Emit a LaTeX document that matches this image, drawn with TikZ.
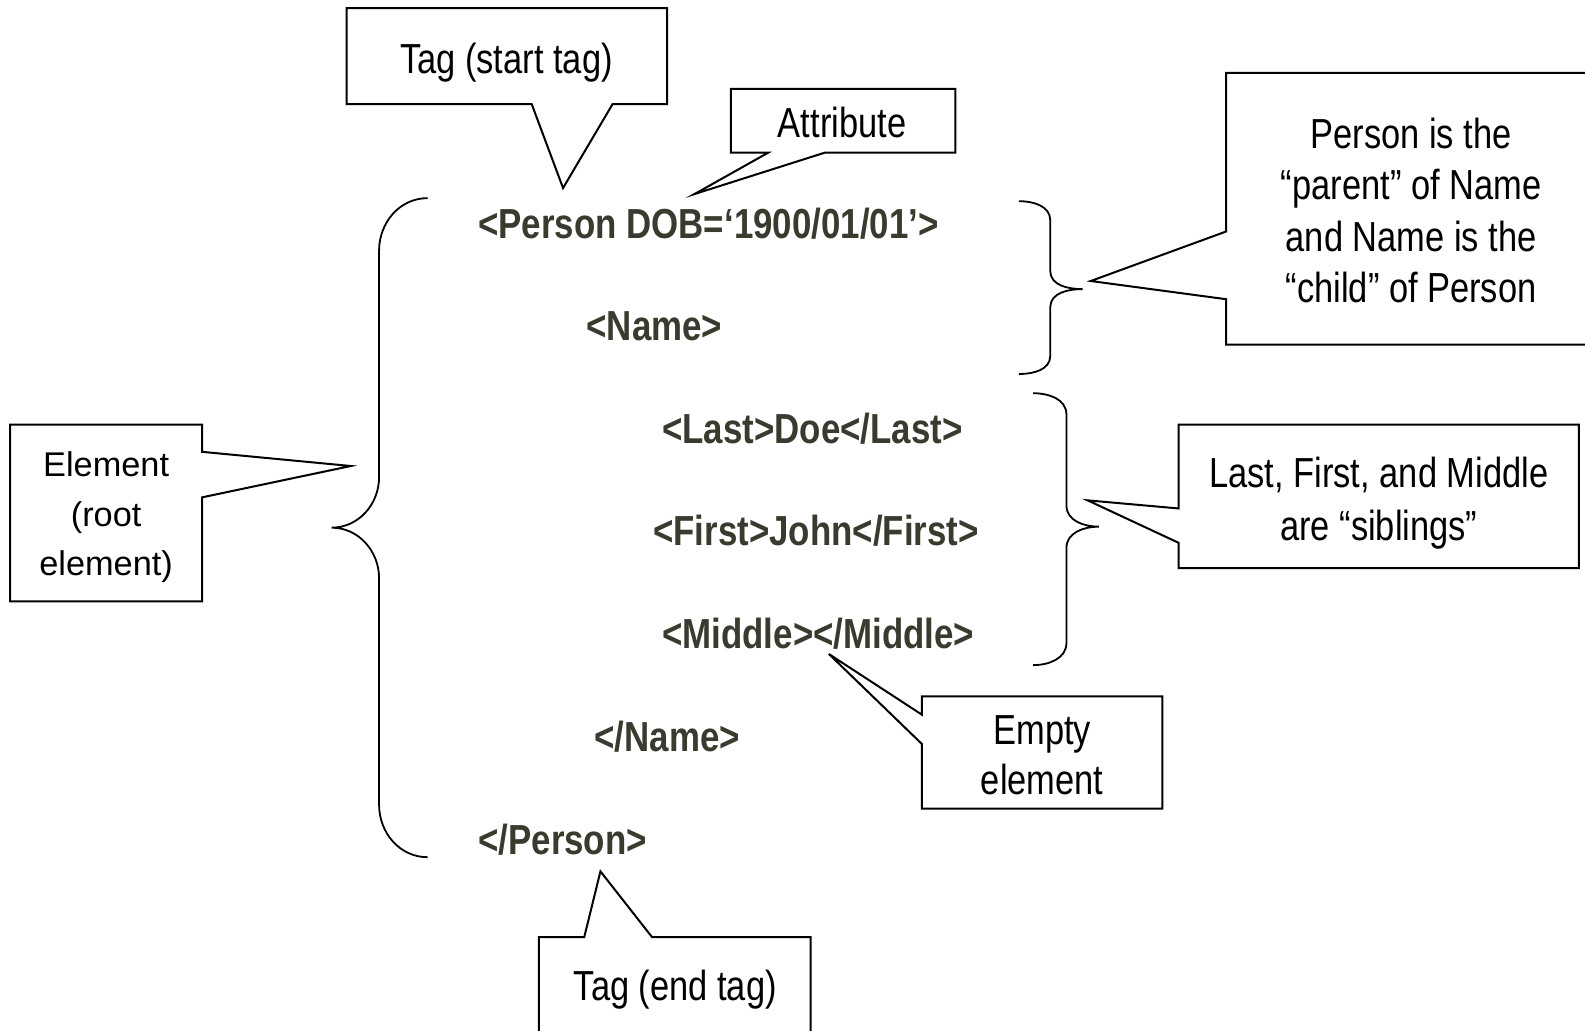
\documentclass[tikz,border=0pt]{standalone}
\usepackage{fontspec}
\setmainfont[FakeStretch=0.82]{Liberation Sans}
\newfontfamily\xmlfont[FakeStretch=0.83]{Liberation Sans}
\newfontfamily\arialfont{Liberation Sans}
\definecolor{xmlcol}{RGB}{58,58,46}
\begin{document}
\begin{tikzpicture}[x=1.0108pt,y=-1.0108pt,
  line join=miter,
  callout/.style={draw=black,line width=2pt,fill=white},
  bracepath/.style={draw=black,line width=1.8pt},
  xml/.style={inner sep=0pt,text=xmlcol,font=\xmlfont\fontsize{42}{50}\selectfont\bfseries},
  lbl/.style={inner sep=0pt,align=center,font=\fontsize{42}{51.5}\selectfont}]
\useasboundingbox[fill=white] (0,0) rectangle (1568,1019);

% ---- XML text ----
\node[xml,anchor=base west] (person) at (473,236) {<Person DOB=‘1900/01/01’>};
\node[xml,anchor=base west] (name)   at (580,337) {<Name>};
\node[xml,anchor=base west] (last)   at (655,439) {<Last>Doe</Last>};
\node[xml,anchor=base west] (first)  at (646,540) {<First>John</First>};
\node[xml,anchor=base west] (middle) at (655,642) {<Middle></Middle>};
\node[xml,anchor=base west] (ename)  at (588,743) {</Name>};
\node[xml,anchor=base west] (eperson) at (473,845) {</Person>};

% ---- pointer tips ----
\coordinate (tipstart) at (557,186);
\coordinate (tipattr)  at (687,192);
\coordinate (tipparent) at (1079,278);
\coordinate (tipsib)   at (1076,495);
\coordinate (tipelem)  at (347,461);
\coordinate (tipempty) at (820,647);
\coordinate (tipend)   at (594,862);

% ---- braces ----
\draw[bracepath] (423,196) to[out=180,in=90] (375,248) -- (375,472)
  to[out=-90,in=0] (328,522) to[out=0,in=90] (375,572) -- (375,796)
  to[out=-90,in=180] (423,848);
\draw[bracepath] (1008,199) to[out=0,in=90] (1039,218) -- (1039,268)
  to[out=-90,in=180] (1071,286) to[out=180,in=90] (1039,304) -- (1039,352)
  to[out=-90,in=0] (1008,370);
\draw[bracepath] (1022,389) to[out=0,in=90] (1055,410) -- (1055,500)
  to[out=-90,in=180] (1087,521) to[out=180,in=90] (1055,542) -- (1055,636)
  to[out=-90,in=0] (1022,658);

% ---- callouts ----
\draw[callout] (343,8) -- (660,8) -- (660,103) -- (606,103) -- (tipstart)
  -- (526,103) -- (343,103) -- cycle;
\node[lbl,anchor=base] (tstart) at (501,73) {Tag (start tag)};

\draw[callout] (723,88) -- (945,88) -- (945,151) -- (816,151) -- (tipattr)
  -- (760,151) -- (723,151) -- cycle;
\node[lbl,anchor=base] (attr) at (833,136) {Attribute};

\draw[callout] (1600,72) -- (1213,72) -- (1213,229) -- (tipparent)
  -- (1213,296) -- (1213,341) -- (1600,341);
\node[lbl] (parent) at (1396,208) {Person is the\\“parent” of Name\\and Name is the\\“child” of Person};

\draw[callout] (1166,420) -- (1562,420) -- (1562,562) -- (1166,562)
  -- (1166,537) -- (tipsib) -- (1166,503) -- cycle;
\node[lbl,font=\fontsize{42}{52.6}\selectfont] (sib) at (1364,498) {Last, First, and Middle\\are “siblings”};

\draw[callout] (10,420) -- (200,420) -- (200,447) -- (tipelem) -- (200,492)
  -- (200,595) -- (10,595) -- cycle;
\node[lbl,font=\arialfont\fontsize{34.3}{49.5}\selectfont] (elem) at (105,512) {Element\\(root\\element)};

\draw[callout] (912,689) -- (1150,689) -- (1150,800) -- (912,800)
  -- (912,736) -- (tipempty) -- (912,707) -- cycle;
\node[lbl,font=\fontsize{42}{50.5}\selectfont] (empty) at (1031,747) {Empty\\element};

\draw[callout] (533,1040) -- (533,927) -- (578,927) -- (tipend)
  -- (645,927) -- (802,927) -- (802,1040);
\node[lbl,anchor=base] (tend) at (668,990) {Tag (end tag)};
\end{tikzpicture}
\end{document}
